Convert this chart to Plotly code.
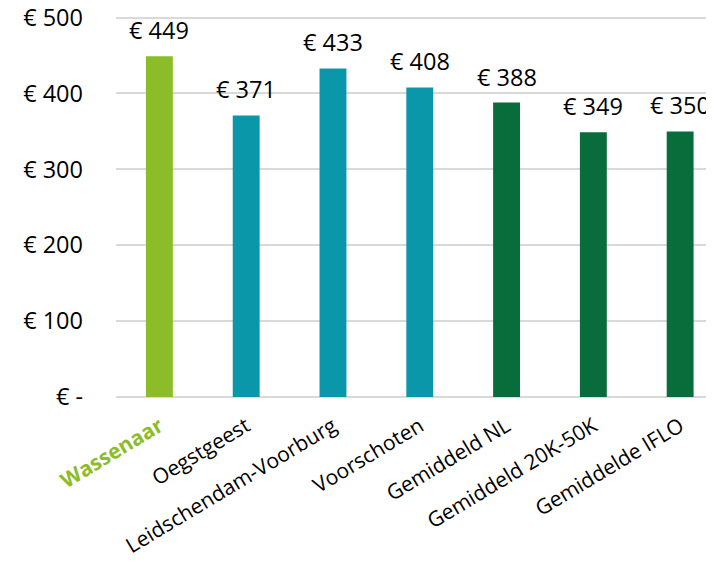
import plotly.graph_objects as go

categories = ["Wassenaar", "Oegstgeest", "Leidschendam-Voorburg", "Voorschoten",
              "Gemiddeld NL", "Gemiddeld 20K-50K", "Gemiddelde IFLO"]
values = [449, 371, 433, 408, 388, 349, 350]
bar_colors = ["#8BBD29", "#0A97A9", "#0A97A9", "#0A97A9", "#086C3B", "#086C3B", "#086C3B"]
tick_vals = [0, 100, 200, 300, 400, 500]
tick_text = ["€ -", "€ 100", "€ 200", "€ 300", "€ 400", "€ 500"]
cat_labels = ["<b><span style='color:#8BBD29'>Wassenaar</span></b>"] + categories[1:]

FONT = "Open Sans"
fig = go.Figure()
fig.add_trace(go.Bar(x=categories, y=values, marker=dict(color=bar_colors, line=dict(width=0)),
                     hoverinfo="skip"))

for c, v in zip(categories, values):
    fig.add_annotation(x=c, y=v, text=f"€ {v}", showarrow=False, yanchor="bottom",
                       yshift=8, font=dict(family=FONT, size=23.5, color="#000000"))

fig.update_layout(
    width=706, height=557,
    margin=dict(l=108, r=0, t=2, b=168),
    plot_bgcolor="white", paper_bgcolor="white",
    bargap=0.69, showlegend=False,
    font=dict(family=FONT, size=22, color="#000000"),
    xaxis=dict(range=[-0.5, 6.39], tickmode="array", tickvals=categories, ticktext=cat_labels,
               tickangle=-31, showgrid=False, showline=False, ticks="", automargin=False,
               ticklabelshift=0, ticklabelstandoff=12,
               tickfont=dict(family=FONT, size=21, color="#000000")),
    yaxis=dict(range=[0, 510], tickmode="array", tickvals=tick_vals, ticktext=tick_text,
               showgrid=True, gridcolor="#D9D9D9", gridwidth=2, zeroline=True,
               zerolinecolor="#D9D9D9", zerolinewidth=2, ticks="", ticklabelstandoff=32,
               ticklabeloverflow="allow", automargin=False,
               tickfont=dict(family=FONT, size=23.5, color="#000000")),
)
fig.write_html("out.html")
